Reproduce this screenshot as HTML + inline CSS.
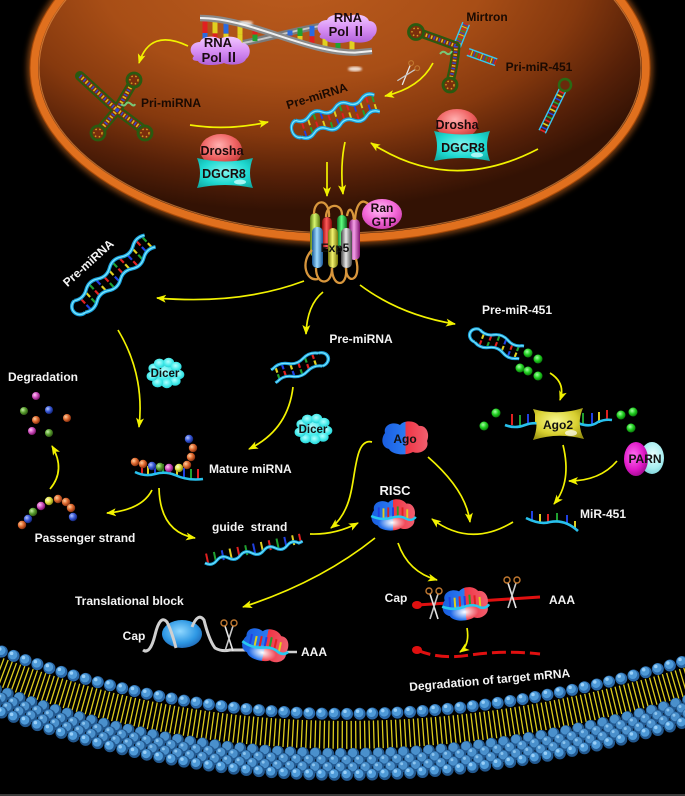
<!DOCTYPE html>
<html><head><meta charset="utf-8">
<style>
html,body{margin:0;padding:0;background:#000;}
svg{display:block;}
text{font-family:"Liberation Sans",Arial,"Noto Sans CJK SC",sans-serif;font-weight:bold;}
</style></head><body>
<svg width="685" height="796" viewBox="0 0 685 796" xmlns="http://www.w3.org/2000/svg" xmlns:xlink="http://www.w3.org/1999/xlink">
<defs>
<radialGradient id="nucG" cx="0.42" cy="0.22" r="0.7">
<stop offset="0" stop-color="#bc5c1e"/><stop offset="0.45" stop-color="#a84e16"/><stop offset="0.68" stop-color="#86390e"/><stop offset="0.86" stop-color="#552008"/><stop offset="1" stop-color="#331204"/>
</radialGradient>
<filter id="blur3" x="-20%" y="-20%" width="140%" height="140%"><feGaussianBlur stdDeviation="3"/></filter>
<filter id="blur1"><feGaussianBlur stdDeviation="1"/></filter>
<marker id="ah" viewBox="0 0 10 8" refX="9" refY="4" markerWidth="10" markerHeight="8" markerUnits="userSpaceOnUse" orient="auto"><path d="M0,0 L10,4 L0,8 L2.5,4 Z" fill="#f2f200"/></marker>
<radialGradient id="bO" cx="0.35" cy="0.35" r="0.7"><stop offset="0" stop-color="#ffd0a0"/><stop offset="0.5" stop-color="#e06a30"/><stop offset="1" stop-color="#7a2a0c"/></radialGradient>
<radialGradient id="bB" cx="0.35" cy="0.35" r="0.7"><stop offset="0" stop-color="#b8c8ff"/><stop offset="0.5" stop-color="#3a5ad8"/><stop offset="1" stop-color="#102070"/></radialGradient>
<radialGradient id="bG" cx="0.35" cy="0.35" r="0.7"><stop offset="0" stop-color="#c8f0a8"/><stop offset="0.5" stop-color="#5aa030"/><stop offset="1" stop-color="#2a5010"/></radialGradient>
<radialGradient id="bP" cx="0.35" cy="0.35" r="0.7"><stop offset="0" stop-color="#ffc8f4"/><stop offset="0.5" stop-color="#d050c0"/><stop offset="1" stop-color="#701060"/></radialGradient>
<radialGradient id="bY" cx="0.35" cy="0.35" r="0.7"><stop offset="0" stop-color="#ffffd0"/><stop offset="0.5" stop-color="#e0e040"/><stop offset="1" stop-color="#808010"/></radialGradient>
<radialGradient id="gD" cx="0.4" cy="0.35" r="0.7"><stop offset="0" stop-color="#a8ffa8"/><stop offset="0.5" stop-color="#20d020"/><stop offset="1" stop-color="#086808"/></radialGradient>
<radialGradient id="drG" cx="0.45" cy="0.35" r="0.7"><stop offset="0" stop-color="#ffb0b0"/><stop offset="0.55" stop-color="#f06464"/><stop offset="1" stop-color="#c03434"/></radialGradient>
<radialGradient id="dgG" cx="0.5" cy="0.45" r="0.7"><stop offset="0" stop-color="#7ff4ee"/><stop offset="0.6" stop-color="#1ed8d0"/><stop offset="1" stop-color="#10a8a0"/></radialGradient>
<linearGradient id="polG" x1="0" y1="0" x2="0" y2="1"><stop offset="0" stop-color="#f0c8ff"/><stop offset="0.5" stop-color="#d890f4"/><stop offset="1" stop-color="#b060d8"/></linearGradient>
<radialGradient id="dcG" cx="0.45" cy="0.4" r="0.7"><stop offset="0" stop-color="#b0ffff"/><stop offset="0.6" stop-color="#3ee8e8"/><stop offset="1" stop-color="#20c0c8"/></radialGradient>
<linearGradient id="agoG" x1="0" y1="0" x2="1" y2="0"><stop offset="0" stop-color="#1a5ee0"/><stop offset="0.5" stop-color="#2a7af2"/><stop offset="0.5" stop-color="#f03444"/><stop offset="1" stop-color="#f06070"/></linearGradient>
<radialGradient id="wgl" cx="0.5" cy="0.5" r="0.5"><stop offset="0" stop-color="#fff" stop-opacity="1"/><stop offset="1" stop-color="#fff" stop-opacity="0"/></radialGradient>
<radialGradient id="ranG" cx="0.45" cy="0.35" r="0.7"><stop offset="0" stop-color="#ffc0f4"/><stop offset="0.55" stop-color="#f46ad8"/><stop offset="1" stop-color="#c838a8"/></radialGradient>
<radialGradient id="pmG" cx="0.4" cy="0.4" r="0.7"><stop offset="0" stop-color="#ff70f0"/><stop offset="0.6" stop-color="#e018c8"/><stop offset="1" stop-color="#900880"/></radialGradient>
<radialGradient id="pcG" cx="0.55" cy="0.4" r="0.7"><stop offset="0" stop-color="#e8ffff"/><stop offset="0.6" stop-color="#a8eef0"/><stop offset="1" stop-color="#70c8d0"/></radialGradient>
<radialGradient id="a2G" cx="0.45" cy="0.4" r="0.7"><stop offset="0" stop-color="#f8f890"/><stop offset="0.6" stop-color="#d8d030"/><stop offset="1" stop-color="#989010"/></radialGradient>
<radialGradient id="riboG" cx="0.45" cy="0.4" r="0.7"><stop offset="0" stop-color="#90d8ff"/><stop offset="0.6" stop-color="#2e98e4"/><stop offset="1" stop-color="#1a5aa8"/></radialGradient>
<linearGradient id="cyL" x1="0" x2="1"><stop offset="0" stop-color="#587810"/><stop offset="0.45" stop-color="#d8f870"/><stop offset="1" stop-color="#587810"/></linearGradient>
<linearGradient id="cyR" x1="0" x2="1"><stop offset="0" stop-color="#880808"/><stop offset="0.45" stop-color="#ff5a5a"/><stop offset="1" stop-color="#880808"/></linearGradient>
<linearGradient id="cyG" x1="0" x2="1"><stop offset="0" stop-color="#086a20"/><stop offset="0.45" stop-color="#60ff80"/><stop offset="1" stop-color="#086a20"/></linearGradient>
<linearGradient id="cyB" x1="0" x2="1"><stop offset="0" stop-color="#1a5a9a"/><stop offset="0.45" stop-color="#a0dcff"/><stop offset="1" stop-color="#1a5a9a"/></linearGradient>
<linearGradient id="cyY" x1="0" x2="1"><stop offset="0" stop-color="#767608"/><stop offset="0.45" stop-color="#f4f470"/><stop offset="1" stop-color="#767608"/></linearGradient>
<linearGradient id="cyS" x1="0" x2="1"><stop offset="0" stop-color="#484848"/><stop offset="0.45" stop-color="#e8e8e8"/><stop offset="1" stop-color="#484848"/></linearGradient>
<linearGradient id="cyM" x1="0" x2="1"><stop offset="0" stop-color="#801070"/><stop offset="0.45" stop-color="#f4a0e8"/><stop offset="1" stop-color="#801070"/></linearGradient>

<!-- duplex (pre-miRNA): loop at x=0, open end at x~104 -->
<g id="dup">
<g stroke-width="2.2">
<line x1="14" y1="-4.2" x2="14" y2="1.3" stroke="#e02020"/><line x1="14" y1="3.3" x2="14" y2="8.8" stroke="#2040e0"/>
<line x1="22" y1="-5.5" x2="22" y2="0" stroke="#e0d020"/><line x1="22" y1="2" x2="22" y2="7.5" stroke="#20a030"/>
<line x1="30" y1="-8.8" x2="30" y2="-3.3" stroke="#20a030"/><line x1="30" y1="-1.3" x2="30" y2="4.2" stroke="#e02020"/>
<line x1="38" y1="-7.5" x2="38" y2="-2" stroke="#2040e0"/><line x1="38" y1="0" x2="38" y2="5.5" stroke="#e0d020"/>
<line x1="46" y1="-4.2" x2="46" y2="1.3" stroke="#e02020"/><line x1="46" y1="3.3" x2="46" y2="8.8" stroke="#20a030"/>
<line x1="54" y1="-5.5" x2="54" y2="0" stroke="#e0d020"/><line x1="54" y1="2" x2="54" y2="7.5" stroke="#2040e0"/>
<line x1="62" y1="-8.8" x2="62" y2="-3.3" stroke="#20a030"/><line x1="62" y1="-1.3" x2="62" y2="4.2" stroke="#e02020"/>
<line x1="70" y1="-7.5" x2="70" y2="-2" stroke="#e02020"/><line x1="70" y1="0" x2="70" y2="5.5" stroke="#e0d020"/>
<line x1="78" y1="-4.2" x2="78" y2="1.3" stroke="#2040e0"/><line x1="78" y1="3.3" x2="78" y2="8.8" stroke="#e02020"/>
<line x1="86" y1="-5.5" x2="86" y2="0" stroke="#e0d020"/><line x1="86" y1="2" x2="86" y2="7.5" stroke="#20a030"/>
<line x1="94" y1="-8.8" x2="94" y2="-3.3" stroke="#e02020"/><line x1="94" y1="-1.3" x2="94" y2="4.2" stroke="#2040e0"/>
<line x1="101" y1="-7.5" x2="101" y2="-2" stroke="#20a030"/><line x1="101" y1="0" x2="101" y2="5.5" stroke="#e0d020"/>
</g>
<path d="M8,-8 Q16,-3 24,-8 T40,-8 T56,-8 T72,-8 T88,-8 T104,-8 M8,8 Q16,13 24,8 T40,8 T56,8 T72,8 T88,8 T104,8 M8,-8 A8,8 0 0 0 8,8" fill="none" stroke="#1aa0dc" stroke-width="3.6"/>
<path d="M8,-8 Q16,-3 24,-8 T40,-8 T56,-8 T72,-8 T88,-8 T104,-8 M8,8 Q16,13 24,8 T40,8 T56,8 T72,8 T88,8 T104,8 M8,-8 A8,8 0 0 0 8,8" fill="none" stroke="#78e8ff" stroke-width="1.3"/>
</g>

<!-- short duplex, length ~58 -->
<g id="dup2">
<g stroke-width="2.2">
<line x1="14" y1="-4.2" x2="14" y2="1.3" stroke="#e0d020"/><line x1="14" y1="3.3" x2="14" y2="8.8" stroke="#e02020"/>
<line x1="22" y1="-5.5" x2="22" y2="0" stroke="#e02020"/><line x1="22" y1="2" x2="22" y2="7.5" stroke="#20a030"/>
<line x1="30" y1="-8.8" x2="30" y2="-3.3" stroke="#20a030"/><line x1="30" y1="-1.3" x2="30" y2="4.2" stroke="#e02020"/>
<line x1="38" y1="-7.5" x2="38" y2="-2" stroke="#2040e0"/><line x1="38" y1="0" x2="38" y2="5.5" stroke="#e0d020"/>
<line x1="46" y1="-4.2" x2="46" y2="1.3" stroke="#e02020"/><line x1="46" y1="3.3" x2="46" y2="8.8" stroke="#2040e0"/>
<line x1="53" y1="-5.5" x2="53" y2="0" stroke="#20a030"/><line x1="53" y1="2" x2="53" y2="7.5" stroke="#e0d020"/>
</g>
<path d="M8,-8 Q16,-3 24,-8 T40,-8 T56,-8 L58,-8.5 M8,8 Q16,13 24,8 T40,8 T56,8 L58,7.5 M8,-8 A8,8 0 0 0 8,8" fill="none" stroke="#1aa0dc" stroke-width="3.6"/>
<path d="M8,-8 Q16,-3 24,-8 T40,-8 T56,-8 L58,-8.5 M8,8 Q16,13 24,8 T40,8 T56,8 L58,7.5 M8,-8 A8,8 0 0 0 8,8" fill="none" stroke="#78e8ff" stroke-width="1.3"/>
</g>

<!-- single strand with sticks up, length 100 -->
<g id="ss">
<g stroke-width="2">
<line x1="3" y1="1" x2="3" y2="-9" stroke="#e02020"/>
<line x1="11" y1="1" x2="11" y2="-9" stroke="#20a030"/>
<line x1="19" y1="1" x2="19" y2="-9" stroke="#2040e0"/>
<line x1="27" y1="1" x2="27" y2="-9" stroke="#e0d020"/>
<line x1="35" y1="1" x2="35" y2="-9" stroke="#e02020"/>
<line x1="43" y1="1" x2="43" y2="-9" stroke="#20a030"/>
<line x1="51" y1="1" x2="51" y2="-9" stroke="#2040e0"/>
<line x1="59" y1="1" x2="59" y2="-9" stroke="#e0d020"/>
<line x1="67" y1="1" x2="67" y2="-9" stroke="#e02020"/>
<line x1="75" y1="1" x2="75" y2="-9" stroke="#20a030"/>
<line x1="83" y1="1" x2="83" y2="-9" stroke="#2040e0"/>
<line x1="91" y1="1" x2="91" y2="-9" stroke="#e0d020"/>
<line x1="98" y1="1" x2="98" y2="-9" stroke="#e02020"/>
</g>
<path d="M0,0 Q6,5 12,0 T24,0 T36,0 T48,0 T60,0 T72,0 T84,0 T96,0 L100,-1" fill="none" stroke="#1aa8e0" stroke-width="3"/>
<path d="M0,0 Q6,5 12,0 T24,0 T36,0 T48,0 T60,0 T72,0 T84,0 T96,0 L100,-1" fill="none" stroke="#7ae8ff" stroke-width="1"/>
</g>

<!-- ladder (cyan hairpin stem) length ~46 -->
<g id="lad">
<g stroke-width="1.6">
<line x1="2" y1="-3" x2="2" y2="3" stroke="#e02020"/><line x1="6" y1="-3" x2="6" y2="3" stroke="#e0d020"/>
<line x1="10" y1="-3" x2="10" y2="3" stroke="#2040e0"/><line x1="14" y1="-3" x2="14" y2="3" stroke="#20a030"/>
<line x1="18" y1="-3" x2="18" y2="3" stroke="#e02020"/><line x1="22" y1="-3" x2="22" y2="3" stroke="#e0d020"/>
<line x1="26" y1="-3" x2="26" y2="3" stroke="#2040e0"/><line x1="30" y1="-3" x2="30" y2="3" stroke="#20a030"/>
<line x1="34" y1="-3" x2="34" y2="3" stroke="#e02020"/><line x1="38" y1="-3" x2="38" y2="3" stroke="#e0d020"/>
<line x1="42" y1="-3" x2="42" y2="3" stroke="#2040e0"/><line x1="45" y1="-3" x2="45" y2="3" stroke="#e02020"/>
</g>
<path d="M0,-3.5 L46,-3.5 M0,3.5 L46,3.5" stroke="#38c8f0" stroke-width="1.4"/>
</g>

<!-- blob for Ago/RISC -->
<path id="blob" d="M-20,-5 C-22,-13 -12,-17 -5,-13 C-1,-18 10,-18 14,-12 C22,-13 25,-3 22,3 C25,11 15,17 8,14 C1,18 -13,17 -16,11 C-24,9 -24,0 -20,-5 Z"/>

<g id="risc">
<use xlink:href="#blob" href="#blob" fill="url(#agoG)"/>
<ellipse cx="-1" cy="8" rx="14" ry="8" fill="url(#wgl)"/>
<g stroke-width="2">
<line x1="-15" y1="2" x2="-15" y2="-8" stroke="#2040e0"/>
<line x1="-10" y1="3" x2="-10" y2="-7" stroke="#e0d020"/>
<line x1="-5" y1="3" x2="-5" y2="-8" stroke="#e02020"/>
<line x1="0" y1="2" x2="0" y2="-8" stroke="#2040e0"/>
<line x1="5" y1="2" x2="5" y2="-9" stroke="#20a030"/>
<line x1="10" y1="3" x2="10" y2="-8" stroke="#e02020"/>
<line x1="15" y1="4" x2="15" y2="-6" stroke="#e0d020"/>
</g>
<path d="M-23,1 Q-12,6 -2,3 Q8,0 14,4 Q20,7 24,2" fill="none" stroke="#28c8f0" stroke-width="2.6"/>
</g>

<g id="dicer">
<circle r="13"/><circle cx="-12" cy="-6" r="6"/><circle cx="-6" cy="-12" r="6"/><circle cx="4" cy="-13" r="6"/><circle cx="12" cy="-8" r="6"/><circle cx="15" cy="2" r="6"/><circle cx="11" cy="10" r="6"/><circle cx="2" cy="13" r="6"/><circle cx="-8" cy="12" r="6"/><circle cx="-14" cy="4" r="6"/>
</g>

<path id="dgcr" d="M-28,-15 Q0,-8 28,-15 Q22,0 28,15 Q0,9 -28,15 Q-22,0 -28,-15 Z"/>
<path id="pol" d="M-26,6 C-32,2 -30,-8 -20,-8 C-18,-14 -6,-15 0,-11 C6,-15 20,-14 22,-7 C31,-7 32,5 26,9 C24,15 10,16 4,13 C-4,16 -20,16 -22,11 C-27,11 -29,9 -26,6 Z"/>

<g id="sc">
<line x1="-4" y1="-9" x2="4" y2="16" stroke="#e8e8e8" stroke-width="1.6"/>
<line x1="4" y1="-9" x2="-4" y2="16" stroke="#c8c8c8" stroke-width="1.6"/>
<circle cx="-5" cy="-12" r="3" fill="none" stroke="#c07830" stroke-width="1.4"/>
<circle cx="5" cy="-12" r="3" fill="none" stroke="#c07830" stroke-width="1.4"/>
</g>

<path id="mc" d="M-10,647 Q317,775 695,658" fill="none"/>

<g id="priArms"><path d="M80,76 L117,110 M117,110 L131,86 M117,110 L102,128 M117,110 L141,128"/></g>
<g id="mirArms"><path d="M423,34 Q440,40 456,46 M456,46 Q455,62 451,78"/></g>
</defs>

<rect width="685" height="796" fill="#000"/>

<!-- NUCLEUS -->
<ellipse cx="340" cy="68" rx="306" ry="170" fill="none" stroke="#f07a24" stroke-width="14" opacity="0.5" filter="url(#blur3)"/>
<ellipse cx="340" cy="68" rx="306" ry="170" fill="url(#nucG)" stroke="#e0701e" stroke-width="8"/>
<ellipse cx="340" cy="68" rx="301" ry="165" fill="none" stroke="#f59a48" stroke-width="1.2" opacity="0.6"/>
<ellipse cx="340" cy="68" rx="310" ry="174" fill="none" stroke="#a84808" stroke-width="1.2" opacity="0.8"/>

<!-- DNA helix -->
<path d="M200,48 C250,48 305,22.6 355,22.6 Q365,23 372,30" fill="none" stroke="#7a7a7a" stroke-width="6.5"/>
<path d="M200,48 C250,48 305,22.6 355,22.6 Q365,23 372,30" fill="none" stroke="#c8c8c8" stroke-width="2"/>
<g stroke-width="5">
<line x1="205" y1="18.2" x2="205" y2="33" stroke="#e02020"/><line x1="205" y1="33" x2="205" y2="48" stroke="#2a6ae0"/>
<line x1="215" y1="19.1" x2="215" y2="33.4" stroke="#e0d020"/><line x1="215" y1="33.4" x2="215" y2="47.8" stroke="#e02020"/>
<line x1="226" y1="20.7" x2="226" y2="33.7" stroke="#2a6ae0"/><line x1="226" y1="33.7" x2="226" y2="46.8" stroke="#e0d020"/>
<line x1="240" y1="23.5" x2="240" y2="34.1" stroke="#e0d020"/><line x1="240" y1="34.1" x2="240" y2="44.8" stroke="#e0d020"/>
<line x1="255" y1="28.1" x2="255" y2="34.6" stroke="#e02020"/><line x1="255" y1="34.6" x2="255" y2="41.2" stroke="#20a030"/>
<line x1="290" y1="30.5" x2="290" y2="35.7" stroke="#2a6ae0"/><line x1="290" y1="35.7" x2="290" y2="40.9" stroke="#e02020"/>
<line x1="300" y1="28.2" x2="300" y2="36" stroke="#20a030"/><line x1="300" y1="36" x2="300" y2="43.8" stroke="#e0d020"/>
<line x1="312" y1="25.8" x2="312" y2="36.3" stroke="#2a6ae0"/><line x1="312" y1="36.3" x2="312" y2="46.9" stroke="#e02020"/>
<line x1="325" y1="24" x2="325" y2="36.7" stroke="#20a030"/><line x1="325" y1="36.7" x2="325" y2="49.5" stroke="#e0d020"/>
<line x1="338" y1="22.6" x2="338" y2="37.1" stroke="#e02020"/><line x1="338" y1="37.1" x2="338" y2="51.6" stroke="#20a030"/>
<line x1="352" y1="22.5" x2="352" y2="37.5" stroke="#2a6ae0"/><line x1="352" y1="37.5" x2="352" y2="52.5" stroke="#e0d020"/>
</g>
<path d="M200,18 C250,18 305,52.6 355,52.6 L372,51" fill="none" stroke="#8a8a8a" stroke-width="6.5"/>
<path d="M200,18 C250,18 305,52.6 355,52.6 L372,51" fill="none" stroke="#f0f0f0" stroke-width="2"/>
<ellipse cx="246" cy="23" rx="7" ry="2.5" fill="#fff" opacity="0.7" filter="url(#blur1)"/>
<ellipse cx="355" cy="69" rx="7" ry="2.5" fill="#fff" opacity="0.8" filter="url(#blur1)"/>

<!-- RNA Pol II -->
<use href="#pol" xlink:href="#pol" transform="translate(220,50)" fill="url(#polG)"/>
<use href="#pol" xlink:href="#pol" transform="translate(347,28)" fill="url(#polG)"/>
<g fill="#1a0a10" font-size="13" text-anchor="middle">
<text x="218" y="47">RNA</text><text x="220" y="62">Pol Ⅱ</text>
<text x="348" y="22">RNA</text><text x="347" y="36">Pol Ⅱ</text>
</g>

<!-- Pri-miRNA -->
<use href="#priArms" xlink:href="#priArms" fill="none" stroke="#2a5a10" stroke-width="10" stroke-linecap="round"/>
<use href="#priArms" xlink:href="#priArms" fill="none" stroke="#7a2e0c" stroke-width="6"/>
<use href="#priArms" xlink:href="#priArms" fill="none" stroke="#3048d0" stroke-width="4" stroke-dasharray="1.5 4"/>
<use href="#priArms" xlink:href="#priArms" fill="none" stroke="#e0c020" stroke-width="4" stroke-dasharray="1.5 4" stroke-dashoffset="2.7"/>
<g fill="#7a2e0c" stroke="#2a5a10" stroke-width="2.8">
<circle cx="134" cy="80" r="7"/><circle cx="98" cy="133" r="7"/><circle cx="145" cy="133" r="7"/>
</g>
<g fill="none" stroke="#d0a020" stroke-width="1.5" stroke-dasharray="1.5 2.5">
<circle cx="134" cy="80" r="4"/><circle cx="98" cy="133" r="4"/><circle cx="145" cy="133" r="4"/>
</g>
<path d="M121,104 q3,3 5,0 t5,0 t4,0" fill="none" stroke="#78c878" stroke-width="2"/>

<!-- Mirtron -->
<use href="#lad" xlink:href="#lad" transform="translate(457,46) rotate(-68) scale(0.53,1)"/>
<use href="#lad" xlink:href="#lad" transform="translate(468,52) rotate(20) scale(0.65,1)"/>
<use href="#mirArms" xlink:href="#mirArms" fill="none" stroke="#2a5a10" stroke-width="9" stroke-linecap="round"/>
<use href="#mirArms" xlink:href="#mirArms" fill="none" stroke="#7a2e0c" stroke-width="5"/>
<use href="#mirArms" xlink:href="#mirArms" fill="none" stroke="#3048d0" stroke-width="3.5" stroke-dasharray="1.5 4"/>
<use href="#mirArms" xlink:href="#mirArms" fill="none" stroke="#e0c020" stroke-width="3.5" stroke-dasharray="1.5 4" stroke-dashoffset="2.7"/>
<g fill="#7a2e0c" stroke="#2a5a10" stroke-width="2.8">
<circle cx="416" cy="32" r="7.5"/><circle cx="450" cy="85" r="7"/>
</g>
<g fill="none" stroke="#d0a020" stroke-width="1.5" stroke-dasharray="1.5 2.5">
<circle cx="416" cy="32" r="4"/><circle cx="450" cy="85" r="4"/>
</g>
<path d="M440,54 q3,-4 6,-1 t6,-2" fill="none" stroke="#78c878" stroke-width="2"/>
<use href="#sc" xlink:href="#sc" transform="translate(408,73) rotate(40) scale(0.8)"/>

<!-- Pri-miR-451 -->
<use href="#lad" xlink:href="#lad" transform="translate(565,85) rotate(116) translate(6,0)"/>
<circle cx="565" cy="85" r="6" fill="#6a2a0c" stroke="#2a6a14" stroke-width="2.5"/>

<!-- Drosha / DGCR8 -->
<ellipse cx="221" cy="150" rx="21" ry="16" fill="url(#drG)"/>
<use href="#dgcr" xlink:href="#dgcr" transform="translate(225,173)" fill="url(#dgG)"/>
<ellipse cx="240" cy="182" rx="6" ry="2.5" fill="#c8ffff" opacity="0.8"/>
<ellipse cx="457" cy="124" rx="21" ry="15" fill="url(#drG)"/>
<use href="#dgcr" xlink:href="#dgcr" transform="translate(462,146)" fill="url(#dgG)"/>
<ellipse cx="477" cy="155" rx="6" ry="2.5" fill="#c8ffff" opacity="0.8"/>
<g fill="#1a0a0a" font-size="12.5" text-anchor="middle">
<text x="222" y="155">Drosha</text><text x="224" y="178">DGCR8</text>
<text x="457" y="129">Drosha</text><text x="463" y="152">DGCR8</text>
</g>

<!-- Nucleus pre-miRNA -->
<use href="#dup" xlink:href="#dup" transform="translate(292,131) rotate(-18) scale(0.86,1.1)"/>

<!-- Nucleus labels -->
<g fill="#1a0a02" font-size="12" text-anchor="middle">
<text x="487" y="21">Mirtron</text>
<text x="539" y="71">Pri-miR-451</text>
<text x="171" y="107">Pri-miRNA</text>
<text transform="translate(318,100) rotate(-17)">Pre-miRNA</text>
</g>

<!-- Nucleus arrows -->
<g fill="none" stroke="#f2f200" stroke-width="1.7" marker-end="url(#ah)">
<path d="M188,46 Q150,28 139,63"/>
<path d="M190,125 Q228,131 268,122"/>
<path d="M433,63 Q420,88 385,96"/>
<path d="M538,149 Q450,195 371,143"/>
<path d="M327,162 L327,196"/>
<path d="M345,142 Q340,165 343,194"/>
</g>

<!-- Exp5 -->
<rect x="310" y="213" width="10" height="44" rx="5" fill="url(#cyL)"/>
<rect x="322" y="217" width="10" height="32" rx="5" fill="url(#cyR)"/>
<rect x="337" y="215" width="10" height="33" rx="5" fill="url(#cyG)"/>
<rect x="349" y="219" width="11" height="41" rx="5" fill="url(#cyM)"/>
<rect x="312" y="227" width="11" height="41" rx="5" fill="url(#cyB)"/>
<rect x="328" y="228" width="10" height="40" rx="5" fill="url(#cyY)"/>
<rect x="341" y="228" width="11" height="40" rx="5" fill="url(#cyS)"/>
<g fill="none" stroke="#d8963c" stroke-width="2.3">
<path d="M314,214 C314,198 330,198 329,217"/>
<path d="M326,217 C326,203 342,202 342,215"/>
<path d="M347,216 C349,205 353,210 354,220"/>
<path d="M355,220 C356,204 362,196 370,206"/>
<path d="M316,268 C316,286 332,286 332,268"/>
<path d="M332,268 C332,288 348,288 346,268"/>
<path d="M346,268 C346,285 362,282 356,259"/>
<path d="M312,250 C300,262 306,282 318,279"/>
</g>
<text x="335" y="252" font-size="12" fill="#111" text-anchor="middle">Exp5</text>
<ellipse cx="382" cy="214" rx="20" ry="15" fill="url(#ranG)"/>
<g fill="#1a0a10" font-size="12" text-anchor="middle">
<text x="382" y="212">Ran</text><text x="384" y="226">GTP</text>
</g>

<!-- CYTOPLASM duplexes -->
<use href="#dup" xlink:href="#dup" transform="translate(74,312) rotate(-43)"/>
<use href="#dup2" xlink:href="#dup2" transform="translate(328,357) rotate(161) scale(1,0.85)"/>
<use href="#dup2" xlink:href="#dup2" transform="translate(470,333) rotate(21) scale(0.95,0.85)"/>

<!-- green dots -->
<g fill="url(#gD)">
<circle cx="528" cy="353" r="4.5"/><circle cx="538" cy="359" r="4.5"/><circle cx="520" cy="368" r="4.5"/><circle cx="528" cy="371" r="4.5"/><circle cx="538" cy="376" r="4.5"/>
<circle cx="496" cy="413" r="4.5"/><circle cx="484" cy="426" r="4.5"/><circle cx="621" cy="415" r="4.5"/><circle cx="633" cy="412" r="4.5"/><circle cx="631" cy="428" r="4.5"/>
</g>

<!-- Ago2 with strands -->
<g stroke-width="2">
<line x1="512" y1="425" x2="512" y2="414" stroke="#e02020"/><line x1="520" y1="426" x2="520" y2="415" stroke="#20a030"/>
<line x1="528" y1="425" x2="528" y2="414" stroke="#2040e0"/><line x1="536" y1="424" x2="536" y2="414" stroke="#e0d020"/>
<line x1="583" y1="424" x2="583" y2="413" stroke="#20a030"/><line x1="592" y1="425" x2="592" y2="413" stroke="#2040e0"/>
<line x1="599" y1="423" x2="599" y2="412" stroke="#e0d020"/><line x1="607" y1="421" x2="607" y2="410" stroke="#e02020"/>
</g>
<path d="M505,425 Q515,429 525,425 Q533,422 542,424 M578,423 Q590,428 598,422 Q605,419 612,420" fill="none" stroke="#28c0ec" stroke-width="2.6"/>
<path d="M-25,-15 Q0,-8 25,-16 Q18,0 26,15 Q0,8 -25,16 Q-18,0 -25,-15 Z" transform="translate(558,424)" fill="url(#a2G)"/>
<ellipse cx="571" cy="433" rx="6" ry="3" fill="#fff" opacity="0.7"/>
<text x="558" y="429" font-size="12" fill="#111" text-anchor="middle">Ago2</text>

<!-- PARN -->
<ellipse cx="652" cy="458" rx="12" ry="16" fill="url(#pcG)"/>
<ellipse cx="636" cy="459" rx="12" ry="17" fill="url(#pmG)"/>
<text x="645" y="463" font-size="12" fill="#111" text-anchor="middle">PARN</text>

<!-- Dicers -->
<use href="#dicer" xlink:href="#dicer" transform="translate(165,373) scale(0.92,0.8)" fill="url(#dcG)"/>
<use href="#dicer" xlink:href="#dicer" transform="translate(313,429) scale(0.92,0.8)" fill="url(#dcG)"/>
<g fill="#111" font-size="11.5" text-anchor="middle">
<text x="165" y="377">Dicer</text><text x="313" y="433">Dicer</text>
</g>

<!-- Ago -->
<use href="#blob" xlink:href="#blob" transform="translate(405,438)" fill="url(#agoG)"/>
<text x="405" y="443" font-size="12" fill="#111" text-anchor="middle">Ago</text>

<!-- RISCs -->
<use href="#risc" xlink:href="#risc" transform="translate(393,515) scale(0.95)"/>

<!-- Mature miRNA -->
<g stroke-width="2">
<line x1="142" y1="474" x2="142" y2="465" stroke="#e02020"/><line x1="148" y1="475" x2="148" y2="466" stroke="#e0d020"/>
<line x1="155" y1="474" x2="155" y2="465" stroke="#2040e0"/><line x1="163" y1="473" x2="163" y2="464" stroke="#20a030"/>
<line x1="170" y1="474" x2="170" y2="465" stroke="#e02020"/><line x1="177" y1="476" x2="177" y2="466" stroke="#e0d020"/>
<line x1="184" y1="478" x2="184" y2="468" stroke="#2040e0"/><line x1="191" y1="479" x2="191" y2="469" stroke="#20a030"/>
<line x1="198" y1="479" x2="198" y2="469" stroke="#e02020"/>
</g>
<path d="M135,472 Q145,477 155,474 Q165,471 175,475 Q188,481 203,479" fill="none" stroke="#28c0ec" stroke-width="2.6"/>
<circle cx="135" cy="462" r="4.2" fill="url(#bO)"/><circle cx="143" cy="464" r="4.2" fill="url(#bO)"/>
<circle cx="152" cy="466" r="4.2" fill="url(#bB)"/><circle cx="160" cy="467" r="4.2" fill="url(#bG)"/>
<circle cx="169" cy="468" r="4.2" fill="url(#bP)"/><circle cx="179" cy="468" r="4.2" fill="url(#bY)"/>
<circle cx="187" cy="465" r="4.2" fill="url(#bO)"/><circle cx="191" cy="457" r="4.2" fill="url(#bO)"/>
<circle cx="193" cy="448" r="4.2" fill="url(#bO)"/><circle cx="189" cy="439" r="4.2" fill="url(#bB)"/>

<!-- Degradation beads -->
<circle cx="36" cy="396" r="4" fill="url(#bP)"/><circle cx="24" cy="411" r="4" fill="url(#bG)"/>
<circle cx="49" cy="410" r="4" fill="url(#bB)"/><circle cx="36" cy="420" r="4" fill="url(#bO)"/>
<circle cx="67" cy="418" r="4" fill="url(#bO)"/><circle cx="32" cy="431" r="4" fill="url(#bP)"/>
<circle cx="49" cy="433" r="4" fill="url(#bG)"/>

<!-- Passenger beads -->
<circle cx="22" cy="525" r="4.2" fill="url(#bO)"/><circle cx="28" cy="519" r="4.2" fill="url(#bB)"/>
<circle cx="33" cy="512" r="4.2" fill="url(#bG)"/><circle cx="41" cy="506" r="4.2" fill="url(#bP)"/>
<circle cx="49" cy="501" r="4.2" fill="url(#bY)"/><circle cx="58" cy="499" r="4.2" fill="url(#bO)"/>
<circle cx="66" cy="502" r="4.2" fill="url(#bO)"/><circle cx="71" cy="508" r="4.2" fill="url(#bO)"/>
<circle cx="73" cy="517" r="4.2" fill="url(#bB)"/>

<!-- Guide strand -->
<use href="#ss" xlink:href="#ss" transform="translate(205,563) rotate(-12)"/>

<!-- MiR-451 -->
<g stroke-width="2">
<line x1="532" y1="520" x2="532" y2="511" stroke="#2040e0"/><line x1="540" y1="523" x2="540" y2="514" stroke="#e0d020"/>
<line x1="548" y1="523" x2="548" y2="514" stroke="#e02020"/><line x1="557" y1="522" x2="557" y2="513" stroke="#20a030"/>
<line x1="567" y1="524" x2="567" y2="515" stroke="#2040e0"/><line x1="575" y1="529" x2="575" y2="521" stroke="#e0d020"/>
</g>
<path d="M526,518 Q540,525 550,522 Q565,519 578,531" fill="none" stroke="#28c0ec" stroke-width="2.6"/>

<!-- Cytoplasm arrows -->
<g fill="none" stroke="#f2f200" stroke-width="1.7" marker-end="url(#ah)">
<path d="M304,281 Q240,305 157,298"/>
<path d="M323,292 Q307,305 306,334"/>
<path d="M360,285 Q400,315 455,324"/>
<path d="M118,330 Q145,375 139,427"/>
<path d="M293,387 Q288,430 249,449"/>
<path d="M152,490 Q142,510 107,513"/>
<path d="M159,488 Q160,532 195,538"/>
<path d="M50,489 Q66,470 52,446"/>
<path d="M310,534 Q335,535 358,523"/>
<path d="M372,442 C356,438 356,470 351,492 Q346,516 331,528"/>
<path d="M428,457 Q466,490 470,522"/>
<path d="M513,522 Q470,548 432,519"/>
<path d="M550,373 Q566,383 560,400"/>
<path d="M563,445 Q572,482 554,504"/>
<path d="M617,461 Q600,481 569,481"/>
<path d="M375,538 Q320,582 243,607"/>
<path d="M398,543 Q408,572 437,580"/>
<path d="M467,628 Q470,645 460,652"/>
</g>

<!-- Translational block -->
<ellipse cx="182" cy="634" rx="20" ry="14" fill="url(#riboG)"/>
<path d="M143,650 Q150,655 155,635 Q160,614 167,622 Q172,632 176,648" fill="none" stroke="#d0d0d0" stroke-width="3"/>
<path d="M192,627 Q198,612 204,620 Q209,640 215,648 Q222,652 230,650 L250,650" fill="none" stroke="#d0d0d0" stroke-width="3"/>
<path d="M285,652 L297,652" stroke="#d0d0d0" stroke-width="2.5"/>
<use href="#sc" xlink:href="#sc" transform="translate(229,635)"/>
<use href="#risc" xlink:href="#risc" transform="translate(265,645) rotate(12)"/>

<!-- Degradation of target -->
<path d="M417,605 Q480,601 540,597" fill="none" stroke="#e01010" stroke-width="3"/>
<ellipse cx="417" cy="605" rx="5" ry="4" fill="#e01010"/>
<use href="#risc" xlink:href="#risc" transform="translate(465,604) rotate(-4)"/>
<use href="#sc" xlink:href="#sc" transform="translate(434,603)"/>
<use href="#sc" xlink:href="#sc" transform="translate(512,592)"/>
<path d="M417,650 Q440,660 470,655 Q505,650 540,654" fill="none" stroke="#e01010" stroke-width="3" stroke-dasharray="14 5"/>
<ellipse cx="417" cy="650" rx="5" ry="4" fill="#e01010"/>

<!-- White labels -->
<g fill="#f4f4f4" font-size="12">
<text transform="translate(91,266) rotate(-42)" text-anchor="middle">Pre-miRNA</text>
<text x="361" y="343" text-anchor="middle">Pre-miRNA</text>
<text x="517" y="314" text-anchor="middle">Pre-miR-451</text>
<text x="43" y="381" text-anchor="middle">Degradation</text>
<text x="209" y="473">Mature miRNA</text>
<text x="85" y="542" text-anchor="middle">Passenger strand</text>
<text x="212" y="531">guide&#160; strand</text>
<text x="395" y="495" text-anchor="middle" font-size="13">RISC</text>
<text x="580" y="518">MiR-451</text>
<text x="75" y="605">Translational block</text>
<text x="134" y="640" text-anchor="middle">Cap</text>
<text x="301" y="656">AAA</text>
<text x="396" y="602" text-anchor="middle">Cap</text>
<text x="549" y="604">AAA</text>
<text transform="translate(490,684) rotate(-5)" text-anchor="middle">Degradation of target mRNA</text>
</g>

<!-- MEMBRANE -->
<use href="#mc" xlink:href="#mc" transform="translate(0,21)" stroke="#dccc1e" stroke-width="28" stroke-dasharray="1.3 3.2"/>
<g stroke-linecap="round">
<use href="#mc" xlink:href="#mc" stroke="#2a68a8" stroke-width="12" stroke-dasharray="0 12.6"/>
<use href="#mc" xlink:href="#mc" transform="translate(-0.7,-1)" stroke="#4e9ad8" stroke-width="9" stroke-dasharray="0 12.6"/>
<use href="#mc" xlink:href="#mc" transform="translate(-2,-2.5)" stroke="#9ad0f8" stroke-width="3.5" stroke-dasharray="0 12.6"/>

<use href="#mc" xlink:href="#mc" transform="translate(0,40)" stroke="#22588f" stroke-width="12" stroke-dasharray="0 12.6" stroke-dashoffset="6.3"/>
<use href="#mc" xlink:href="#mc" transform="translate(-0.7,39)" stroke="#4a90cc" stroke-width="9" stroke-dasharray="0 12.6" stroke-dashoffset="6.3"/>
<use href="#mc" xlink:href="#mc" transform="translate(0,47)" stroke="#22588f" stroke-width="12" stroke-dasharray="0 12.6"/>
<use href="#mc" xlink:href="#mc" transform="translate(-0.7,46)" stroke="#4a90cc" stroke-width="9" stroke-dasharray="0 12.6"/>
<use href="#mc" xlink:href="#mc" transform="translate(-2,44.5)" stroke="#8cc4ee" stroke-width="3" stroke-dasharray="0 12.6"/>
<use href="#mc" xlink:href="#mc" transform="translate(0,54)" stroke="#22588f" stroke-width="12" stroke-dasharray="0 12.6" stroke-dashoffset="6.3"/>
<use href="#mc" xlink:href="#mc" transform="translate(-0.7,53)" stroke="#4a90cc" stroke-width="9" stroke-dasharray="0 12.6" stroke-dashoffset="6.3"/>
<use href="#mc" xlink:href="#mc" transform="translate(-2,51.5)" stroke="#8cc4ee" stroke-width="3" stroke-dasharray="0 12.6" stroke-dashoffset="6.3"/>
<use href="#mc" xlink:href="#mc" transform="translate(0,61)" stroke="#22588f" stroke-width="12" stroke-dasharray="0 12.6"/>
<use href="#mc" xlink:href="#mc" transform="translate(-0.7,60)" stroke="#4e9ad8" stroke-width="9" stroke-dasharray="0 12.6"/>
<use href="#mc" xlink:href="#mc" transform="translate(-2,58.5)" stroke="#9ad0f8" stroke-width="3.5" stroke-dasharray="0 12.6"/>
</g>
<rect x="0" y="794" width="685" height="2" fill="#3a3a3a"/>
</svg>
</body></html>
